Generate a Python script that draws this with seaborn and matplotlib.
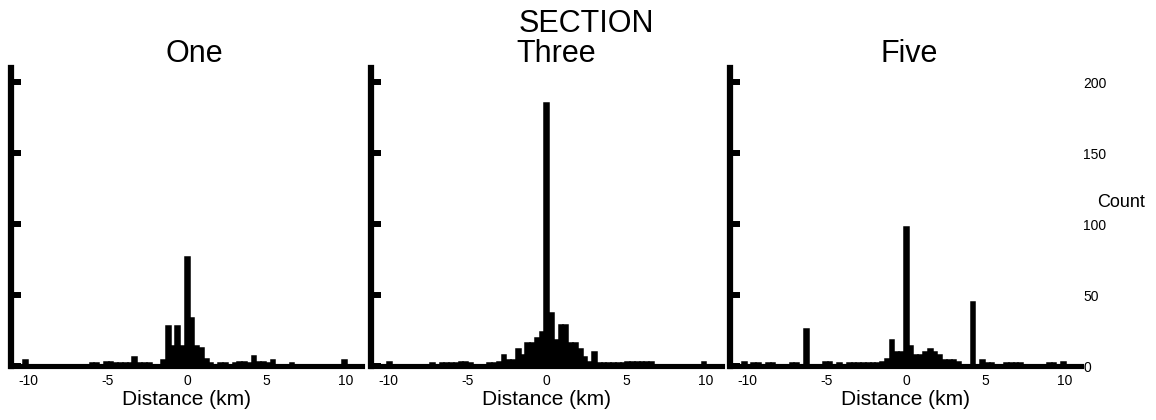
import numpy as np
import pandas as pd
import matplotlib
matplotlib.use("Agg")
import matplotlib.pyplot as plt
import seaborn as sns

# ---------------- data ----------------
sections = ["One", "Three", "Five"]
bin_width = 0.3
bin_centers = list(np.round(np.arange(-36, 37) * bin_width, 1))  # -10.8 ... 10.8 km

counts_one = [0, 0, 4, 1, 1, 0, 1, 1, 0, 1, 1, 0, 1, 1, 1, 1, 2, 2, 1, 3,
              3, 2, 2, 2, 2, 6, 2, 2, 2, 1, 1, 4, 28, 14, 28, 14, 77, 34, 14, 13,
              5, 2, 1, 2, 2, 1, 2, 3, 3, 2, 7, 3, 3, 2, 4, 1, 1, 1, 2, 0,
              1, 0, 1, 1, 0, 0, 1, 0, 1, 4, 1, 0, 0]
counts_three = [0, 0, 1, 3, 1, 1, 1, 1, 1, 1, 0, 1, 2, 1, 2, 2, 2, 2, 3, 3,
                2, 1, 1, 1, 2, 2, 3, 8, 4, 4, 12, 8, 16, 16, 20, 24, 185, 37, 18, 29,
                29, 16, 16, 12, 6, 3, 10, 2, 2, 2, 2, 2, 2, 3, 3, 3, 3, 3, 3, 1,
                1, 1, 1, 0, 1, 1, 0, 1, 1, 3, 1, 0, 0]
counts_five = [0, 0, 3, 1, 2, 2, 1, 2, 2, 1, 0, 1, 2, 2, 0, 26, 1, 1, 1, 3,
               3, 1, 2, 1, 2, 2, 2, 2, 2, 2, 2, 3, 5, 18, 10, 10, 98, 14, 8, 8,
               10, 12, 10, 8, 4, 4, 4, 3, 1, 1, 45, 1, 4, 2, 2, 1, 1, 2, 2, 2,
               2, 1, 0, 1, 0, 1, 2, 2, 1, 3, 1, 0, 0]
x_ticks = [-10, -5, 0, 5, 10]
y_ticks = [0, 50, 100, 150, 200]

# ---------------- style ----------------
sns.set_theme(style="white")
plt.rcParams['font.family'] = ['Liberation Sans', 'DejaVu Sans']

W, H = 1156, 420
fig = plt.figure(figsize=(W / 100, H / 100), dpi=100)
fig.patch.set_facecolor("white")

lefts = [11, 370.5, 730]
title_shift = [8, 10, 4]  # px offset of header centre from panel centre
ax_w = 351
ax_bottom = 366
ax_top = 68
edges = [float(e) for e in (np.arange(-36.5, 37.5) * bin_width)]

all_counts = [counts_one, counts_three, counts_five]
for i, (name, counts) in enumerate(zip(sections, all_counts)):
    ax = fig.add_axes([lefts[i] / W, (H - ax_bottom) / H, ax_w / W, (ax_bottom - ax_top) / H])
    df = pd.DataFrame({"distance": bin_centers, "count": counts})
    sns.histplot(data=df, x="distance", weights="count", bins=edges,
                 color="black", edgecolor="black", linewidth=1.1, alpha=1,
                 ax=ax)
    ax.set_xlim(-11.1, 11.0)
    ax.set_ylim(0, 210)
    ax.set_xticks(x_ticks)
    ax.set_xticklabels([str(t) for t in x_ticks])
    ax.set_yticks(y_ticks)
    for s in ["top", "right"]:
        ax.spines[s].set_visible(False)
    ax.spines["left"].set_linewidth(4.5)
    ax.spines["bottom"].set_linewidth(3.7)
    ax.spines["left"].set_color("black")
    ax.spines["bottom"].set_color("black")
    ax.tick_params(axis="x", length=0, pad=6, labelsize=10, colors="black")
    ax.tick_params(axis="y", direction="in", length=7.5, width=4.3,
                   color="black", labelleft=False, left=True)
    t = ax.set_title(name, fontsize=22, pad=4, color="black")
    t.set_x(0.5 + title_shift[i] / ax_w)
    ax.set_xlabel("Distance (km)", fontsize=15, labelpad=1, color="black")
    ax.set_ylabel("")
    ax.grid(False)
    if i == 2:
        ax.tick_params(axis="y", labelright=True, right=False, labelsize=10,
                       pad=1.5, labelcolor="black")
        ax.yaxis.set_label_position("right")
        ax.set_ylabel("Count", rotation=0, fontsize=13, ha="center", va="center",
                      color="black")
        ax.yaxis.set_label_coords(1.114, 0.547)

fig.text(586 / W, 1 - 24 / H, "SECTION", ha="center", va="center", fontsize=22,
         color="black")

fig.savefig("out.png", dpi=100, facecolor="white")
